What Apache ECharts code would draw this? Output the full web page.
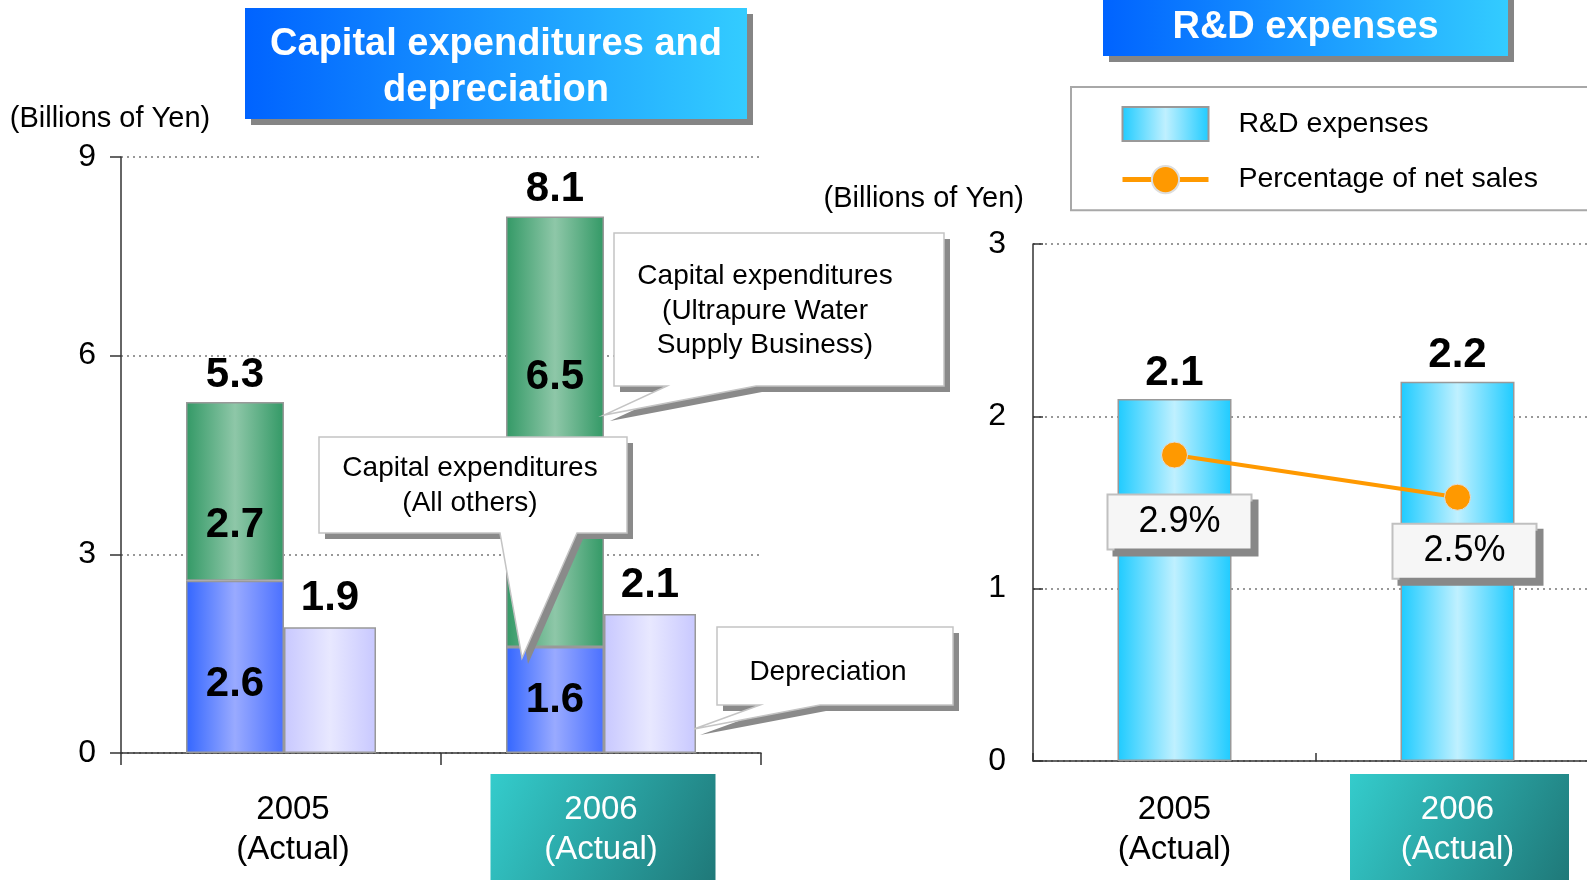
<!DOCTYPE html>
<html><head><meta charset="utf-8">
<script src="https://cdn.jsdelivr.net/npm/echarts@6/dist/echarts.min.js"></script>
<style>html,body{margin:0;padding:0;background:#fff}#c{width:1587px;height:880px}</style>
</head><body><div id="c"></div>
<script>
// ---- data ----
const years = ['2005', '2006'];
const yearSuffix = '(Actual)';
const capexOthers = [2.6, 1.6];      // Capital expenditures (All others)
const capexUltrapure = [2.7, 6.5];   // Capital expenditures (Ultrapure Water Supply Business)
const capexTotal = [5.3, 8.1];       // printed totals
const depreciation = [1.9, 2.1];
const rdExpenses = [2.1, 2.2];
const rdPercent = [2.9, 2.5];        // Percentage of net sales (%)
const leftAxisMax = 9, leftAxisStep = 3;
const rightAxisMax = 3, rightAxisStep = 1;

// ---- styles ----
const FF = "'Liberation Sans', Arial, sans-serif";
const hGrad = (a, b, c) => ({type: 'linear', x: 0, y: 0, x2: 1, y2: 0,
  colorStops: [{offset: 0, color: a}, {offset: 0.5, color: b}, {offset: 1, color: c}]});
const labelBold = {fontSize: 42, fontWeight: 'bold', color: '#000', fontFamily: FF};
const othersOffsets = [[0, 18], [0, 0]];
const ultraOffsets = [[0, 34], [0, -54]];
const pctOffsets = [[5, 22], [7, 9]];

const chart = echarts.init(document.getElementById('c'), null, {renderer: 'canvas'});

const axisLineStyle = {color: '#333', width: 1.5};
const splitStyle = {type: [2, 4], color: '#777', width: 1.5};

const option = {
  animation: false,
  backgroundColor: '#fff',
  textStyle: {fontFamily: FF},
  grid: [
    {left: 121, top: 157, width: 640, height: 596, outerBoundsMode: 'none', containLabel: false},
    {left: 1033, top: 244, width: 566, height: 517, outerBoundsMode: 'none', containLabel: false}
  ],
  legend: {
    data: [{name: 'R&D expenses', icon: 'rect'}, {name: 'Percentage of net sales'}],
    orient: 'vertical', left: 1071, top: 87,
    padding: [19, 90, 16, 49],
    itemWidth: 86, itemHeight: 34, itemGap: 23,
    borderColor: '#a8a8a8', borderWidth: 2,
    lineStyle: {width: 5},
    textStyle: {fontSize: 28.5, color: '#000', fontFamily: FF, padding: [0, 0, 0, 25]}
  },
  xAxis: [
    {type: 'category', gridIndex: 0, data: years,
     axisLine: {lineStyle: axisLineStyle},
     axisTick: {show: true, length: 12, lineStyle: axisLineStyle},
     axisLabel: {margin: 37, fontSize: 33, lineHeight: 40, fontFamily: FF,
       color: (v, i) => i === 1 ? '#fff' : '#000',
       formatter: (v, i) => i === 0 ? '{s|' + v + '}\n{s|' + yearSuffix + '}' : v + '\n' + yearSuffix,
       rich: {s: {fontSize: 33, lineHeight: 40, fontFamily: FF, color: '#000', padding: [0, 0, 0, 24]}}}},
    {type: 'category', gridIndex: 1, data: years,
     axisLine: {lineStyle: axisLineStyle},
     axisTick: {show: true, inside: true, length: 8, lineStyle: axisLineStyle},
     axisLabel: {margin: 29, fontSize: 33, lineHeight: 40, fontFamily: FF,
       color: (v, i) => i === 1 ? '#fff' : '#000',
       formatter: v => v + '\n' + yearSuffix}}
  ],
  yAxis: [
    {type: 'value', gridIndex: 0, min: 0, max: leftAxisMax, interval: leftAxisStep,
     name: '(Billions of Yen)', nameLocation: 'end', nameGap: 24,
     nameTextStyle: {fontSize: 29, color: '#000', fontFamily: FF, align: 'center', padding: [0, 22, 0, 0]},
     axisLine: {show: true, lineStyle: axisLineStyle},
     axisTick: {show: true, length: 11, lineStyle: axisLineStyle},
     axisLabel: {fontSize: 32, margin: 25, color: '#000', fontFamily: FF},
     splitLine: {lineStyle: splitStyle}},
    {type: 'value', gridIndex: 1, min: 0, max: rightAxisMax, interval: rightAxisStep,
     name: '(Billions of Yen)', nameLocation: 'end', nameGap: 31,
     nameTextStyle: {fontSize: 29, color: '#000', fontFamily: FF, align: 'right', padding: [0, 9, 0, 0]},
     axisLine: {show: true, lineStyle: axisLineStyle},
     axisTick: {show: true, inside: true, length: 10, lineStyle: axisLineStyle},
     axisLabel: {fontSize: 32, margin: 27, color: '#000', fontFamily: FF},
     splitLine: {lineStyle: splitStyle}},
    {type: 'value', gridIndex: 1, min: 0, max: 4.9, show: false, splitLine: {show: false}}
  ],
  series: [
    {name: 'Capital expenditures (All others)', type: 'bar', xAxisIndex: 0, yAxisIndex: 0,
     stack: 'capex', barWidth: 98, barGap: '0%',
     itemStyle: {color: hGrad('#3366ff', '#99aaff', '#4a70ff'), borderColor: '#999', borderWidth: 1.5},
     label: Object.assign({show: true, position: 'inside'}, labelBold),
     data: capexOthers.map((v, i) => ({value: v, label: {offset: othersOffsets[i]}}))},
    {name: 'Capital expenditures (Ultrapure Water Supply Business)', type: 'bar', xAxisIndex: 0, yAxisIndex: 0,
     stack: 'capex', barWidth: 98, barGap: '0%',
     itemStyle: {color: hGrad('#339966', '#8ec7a8', '#339966'), borderColor: '#999', borderWidth: 1.5},
     label: Object.assign({show: true, position: 'inside'}, labelBold),
     data: capexUltrapure.map((v, i) => ({value: v, label: {offset: ultraOffsets[i]}}))},
    {name: 'Total', type: 'bar', xAxisIndex: 0, yAxisIndex: 0,
     stack: 'capex', barWidth: 98, barGap: '0%',
     itemStyle: {color: 'rgba(0,0,0,0)', borderWidth: 0},
     label: Object.assign({show: true, position: 'top', distance: 6,
       formatter: p => capexTotal[p.dataIndex].toFixed(1)}, labelBold),
     data: capexTotal.map(() => 0)},
    {name: 'Depreciation', type: 'bar', xAxisIndex: 0, yAxisIndex: 0,
     barWidth: 92, barGap: '0%',
     itemStyle: {color: hGrad('#c8c8ff', '#e8e8ff', '#c8c8ff'), borderColor: '#999', borderWidth: 1.5},
     label: Object.assign({show: true, position: 'top', distance: 8}, labelBold),
     data: depreciation},
    {name: 'R&D expenses', type: 'bar', xAxisIndex: 1, yAxisIndex: 1,
     barWidth: 114,
     itemStyle: {color: hGrad('#1ecbff', '#bff0ff', '#1ecbff'), borderColor: '#999', borderWidth: 1.5},
     label: Object.assign({show: true, position: 'top', distance: 5}, labelBold),
     data: rdExpenses},
    {name: 'Percentage of net sales', type: 'line', xAxisIndex: 1, yAxisIndex: 2,
     symbol: 'circle', symbolSize: 26, z: 5,
     lineStyle: {color: '#ff9900', width: 4},
     itemStyle: {color: '#ff9900', borderColor: '#dddddd', borderWidth: 1},
     label: {show: true, position: 'bottom', distance: 5,
       formatter: p => p.value.toFixed(1) + '%',
       fontSize: 36, color: '#000', fontFamily: FF,
       backgroundColor: '#f6f6f6', borderColor: '#c0c0c0', borderWidth: 2,
       width: 142, height: 53, lineHeight: 53, align: 'center',
       shadowColor: '#888', shadowOffsetX: 6, shadowOffsetY: 6, shadowBlur: 0},
     data: rdPercent.map((v, i) => ({value: v, label: {offset: pctOffsets[i]}}))}
  ]
};
chart.setOption(option);

// ---- decorations (title boxes, callouts, highlighted category boxes) ----
const ZD = 60;
function titleBox(x, y, w, h, text, ty) {
  return {type: 'group', x: x, y: y, children: [
    {type: 'rect', z: ZD, shape: {x: 6, y: 6, width: w, height: h}, style: {fill: '#858585'}},
    {type: 'rect', z: ZD + 1, shape: {x: 0, y: 0, width: w, height: h},
     style: {fill: {type: 'linear', x: 0, y: 0, x2: 1, y2: 0,
       colorStops: [{offset: 0, color: '#0063ff'}, {offset: 1, color: '#33ccff'}]}}},
    {type: 'text', z: ZD + 2, style: {text: text, x: w / 2, y: ty, align: 'center', verticalAlign: 'middle',
      fill: '#fff', font: 'bold 38px ' + FF, lineHeight: 46}}
  ]};
}
function callout(pts, text, tx, ty) {
  const sh = pts.map(p => [p[0] + 6, p[1] + 6]);
  return {type: 'group', children: [
    {type: 'polygon', z: ZD, shape: {points: sh}, style: {fill: '#8a8a8a'}},
    {type: 'polygon', z: ZD + 1, shape: {points: pts}, style: {fill: '#fff', stroke: '#c4c4c4', lineWidth: 1.5}},
    {type: 'text', z: ZD + 2, style: {text: text, x: tx, y: ty, align: 'center', verticalAlign: 'middle',
      fill: '#000', font: '28px ' + FF, lineHeight: 34.5}}
  ]};
}
const graphics = [
  titleBox(245, 8, 502, 111, 'Capital expenditures and\ndepreciation', 60),
  titleBox(1103, -10, 405, 66, 'R&D expenses', 38),
  callout([[614, 233], [944, 233], [944, 386], [756, 386], [604, 415], [667, 386], [614, 386]],
    'Capital expenditures\n(Ultrapure Water\nSupply Business)', 765, 311),
  callout([[319, 437], [627, 437], [627, 533], [577, 533], [522, 658], [500, 533], [319, 533]],
    'Capital expenditures\n(All others)', 470, 486),
  callout([[717, 627], [953, 627], [953, 705], [820, 705], [694, 729], [760, 705], [717, 705]],
    'Depreciation', 828, 672)
];
const teal = {type: 'linear', x: 0, y: 0, x2: 1, y2: 1,
  colorStops: [{offset: 0, color: '#34cccc'}, {offset: 1, color: '#1f7878'}]};
[[0, 225], [1, 219]].forEach(([ax, w]) => {
  const cx = chart.convertToPixel({xAxisIndex: ax}, years[1]);
  graphics.push({type: 'rect', z: -10, shape: {x: cx + 2 - w / 2, y: 774, width: w, height: 110},
    style: {fill: teal}});
});
chart.setOption({graphic: graphics});
</script></body></html>
